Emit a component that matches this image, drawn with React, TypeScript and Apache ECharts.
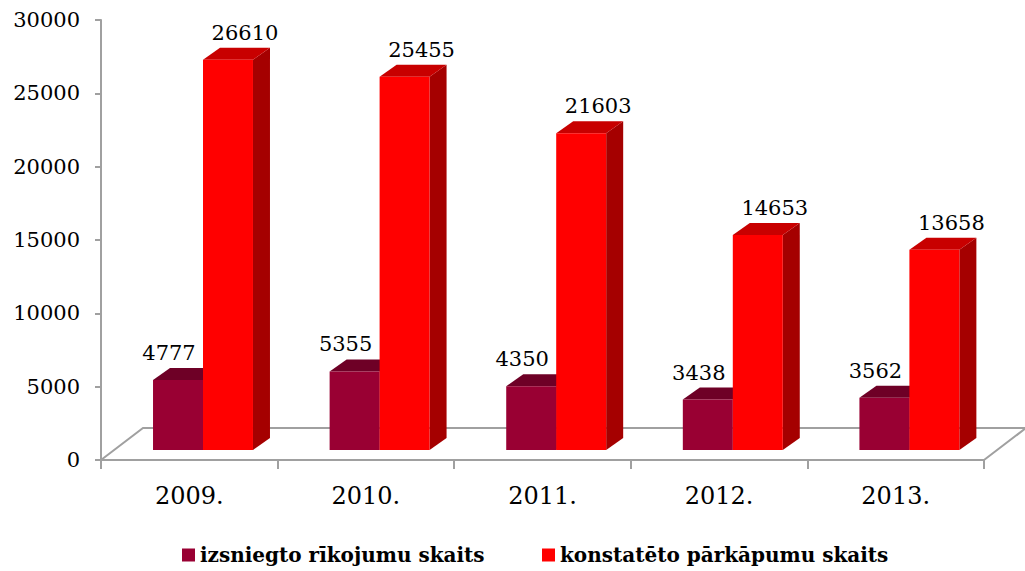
import React, { useEffect, useRef } from "react";
import * as echarts from "echarts";

const categories = ["2009.", "2010.", "2011.", "2012.", "2013."];
const issuedOrders = [4777, 5355, 4350, 3438, 3562];
const violations = [26610, 25455, 21603, 14653, 13658];
const seriesNames = ["izsniegto rīkojumu skaits", "konstatēto pārkāpumu skaits"];
const yTicks = { min: 0, max: 30000, interval: 5000 };

const FONT = "DejaVu Serif";
const GRAY = "#a0a0a0";
const SHIFT_X = 13.7;
const SHIFT_Y = -10;
const DEPTH_X = 17;
const DEPTH_Y = -12;
const BAR_RATIO = 0.283;

function makeBarRenderer(side: number, front: string, top: string, sideColor: string, labelDx: number) {
  return (params: any, api: any) => {
    const idx = api.value(0);
    const v = api.value(1);
    const pTop = api.coord([idx, v]);
    const pBase = api.coord([idx, 0]);
    const catW = api.size([1, 0])[0];
    const bw = catW * BAR_RATIO;
    const cx = pTop[0] + SHIFT_X;
    const x0 = side === 0 ? cx - bw : cx;
    const x1 = x0 + bw;
    const yT = pTop[1] + SHIFT_Y;
    const yB = pBase[1] + SHIFT_Y;
    return {
      type: "group",
      children: [
        {
          type: "polygon",
          shape: { points: [[x1, yT], [x1 + DEPTH_X, yT + DEPTH_Y], [x1 + DEPTH_X, yB + DEPTH_Y], [x1, yB]] },
          style: { fill: sideColor },
        },
        {
          type: "polygon",
          shape: { points: [[x0, yT], [x0 + DEPTH_X, yT + DEPTH_Y], [x1 + DEPTH_X, yT + DEPTH_Y], [x1, yT]] },
          style: { fill: top },
        },
        {
          type: "rect",
          shape: { x: x0, y: yT, width: bw, height: yB - yT },
          style: { fill: front },
        },
        {
          type: "text",
          style: {
            text: String(v),
            x: (x0 + x1) / 2 + labelDx,
            y: yT - 27,
            align: "center",
            verticalAlign: "middle",
            fontSize: 21,
            fontFamily: FONT,
            fill: "#000",
          },
        },
      ],
    };
  };
}

function floorRenderer(params: any, api: any) {
  const cs = params.coordSys;
  const x = cs.x;
  const yb = cs.y + cs.height;
  const w = cs.width;
  const dx = 42;
  const dy = -32;
  return {
    type: "polyline",
    shape: {
      points: [
        [x, yb],
        [x + dx, yb + dy],
        [x + w + dx, yb + dy],
        [x + w, yb],
      ],
    },
    style: { stroke: GRAY, lineWidth: 2, fill: "none" },
  };
}

export default function App() {
  const ref = useRef<HTMLDivElement>(null);
  useEffect(() => {
    if (!ref.current) return;
    const chart = echarts.init(ref.current, undefined, { renderer: "svg" });
    const legendText = { fontFamily: FONT, fontSize: 20, fontWeight: "bold", color: "#000" };
    chart.setOption({
      animation: false,
      backgroundColor: "#fff",
      textStyle: { fontFamily: FONT },
      grid: { left: 101, right: 41, top: 20, bottom: 111 },
      legend: [
        {
          data: [seriesNames[0]],
          left: 177,
          top: 540,
          itemWidth: 13,
          itemHeight: 13,
          icon: "rect",
          textStyle: legendText,
        },
        {
          data: [seriesNames[1]],
          left: 537,
          top: 540,
          itemWidth: 13,
          itemHeight: 13,
          icon: "rect",
          textStyle: legendText,
        },
      ],
      xAxis: {
        type: "category",
        data: categories,
        boundaryGap: true,
        axisLine: { lineStyle: { color: GRAY, width: 2 } },
        axisTick: { show: true, length: 9, lineStyle: { color: GRAY, width: 2 } },
        axisLabel: { fontFamily: FONT, fontSize: 24, color: "#000", margin: 24 },
      },
      yAxis: {
        type: "value",
        min: yTicks.min,
        max: yTicks.max,
        interval: yTicks.interval,
        splitLine: { show: false },
        axisLine: { show: true, lineStyle: { color: GRAY, width: 2 } },
        axisTick: { show: true, length: 6, lineStyle: { color: GRAY, width: 2 } },
        axisLabel: {
          fontFamily: FONT,
          fontSize: 21,
          color: "#000",
          margin: 21,
          formatter: (v: number) => String(v),
        },
      },
      series: [
        {
          type: "custom",
          name: "floor",
          silent: true,
          z: 1,
          renderItem: floorRenderer,
          data: [[0, 0]],
          encode: { x: 0, y: 1 },
        },
        {
          type: "custom",
          name: seriesNames[0],
          z: 3,
          clip: false,
          itemStyle: { color: "#990033" },
          renderItem: makeBarRenderer(0, "#990033", "#6e0026", "#6e0026", -9),
          data: issuedOrders.map((v, i) => [i, v]),
          encode: { x: 0, y: 1 },
        },
        {
          type: "custom",
          name: seriesNames[1],
          z: 4,
          clip: false,
          itemStyle: { color: "#ff0000" },
          renderItem: makeBarRenderer(1, "#ff0000", "#c80000", "#a50000", 17),
          data: violations.map((v, i) => [i, v]),
          encode: { x: 0, y: 1 },
        },
      ],
    });
    return () => chart.dispose();
  }, []);
  return <div ref={ref} style={{ width: 1025, height: 571, position: "absolute", left: 0, top: 0 }} />;
}
